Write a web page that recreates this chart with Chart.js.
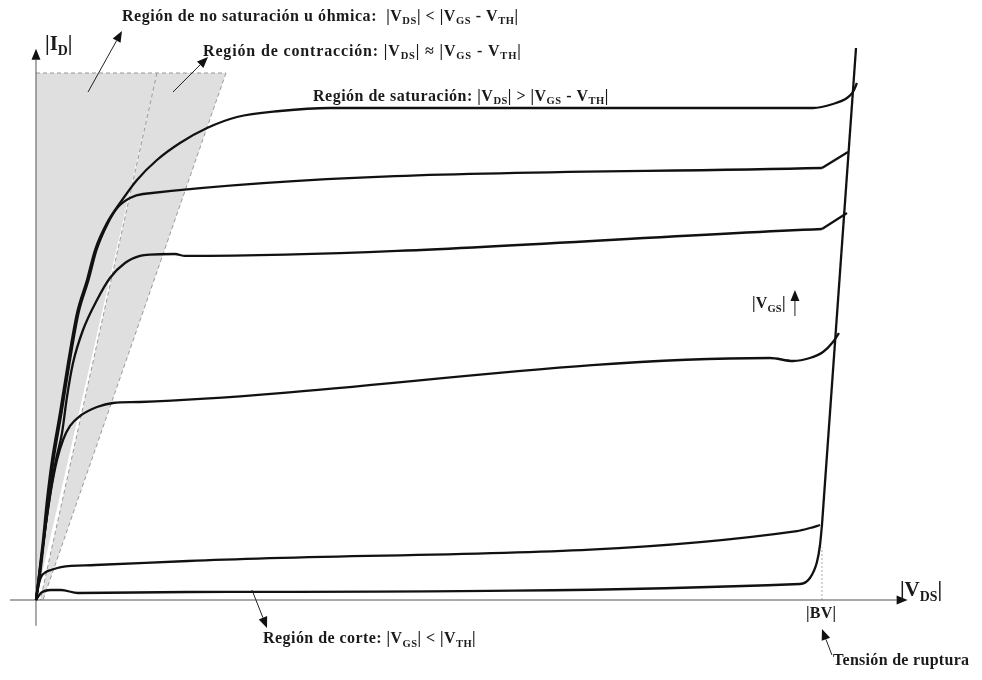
<!DOCTYPE html>
<html>
<head>
<meta charset="utf-8">
<script src="https://cdn.jsdelivr.net/npm/chart.js@4.4.1/dist/chart.umd.min.js"></script>
<style>
  html, body { margin: 0; padding: 0; background: #fff; }
  canvas { display: block; }
</style>
</head>
<body>
<canvas id="c" width="982" height="680"></canvas>
<script>
// MOSFET output characteristics: |I_D| versus |V_DS| for several |V_GS| values.
// Units: |V_DS| in volts with the breakdown voltage |BV| = 100 V, |I_D| in mA.

const BV = 100;

// Highest |V_GS| curve
const vds1 = [0, 0.38, 0.89, 1.40, 2.04, 3.05, 4.07, 5.22, 6.49, 7.51, 9.03, 10.69, 12.85, 15.39, 18.32, 21.76, 25.57, 31.04, 37.40, 98.85, 101.40, 103.18, 103.94, 104.45];
const id1  = [0, 4.74, 11.39, 18.98, 26.57, 35.48, 44.97, 54.46, 60.72, 66.41, 71.54, 75.33, 79.70, 83.49, 86.72, 89.56, 91.65, 92.79, 93.36, 93.36, 94.12, 95.26, 96.39, 98.10];

const vds2 = [0, 0.51, 1.02, 1.59, 2.23, 3.24, 4.26, 5.41, 6.68, 7.70, 9.16, 10.43, 11.96, 13.61, 100];
const id2  = [0, 4.74, 11.39, 18.98, 26.57, 35.48, 44.97, 54.46, 60.72, 66.41, 71.54, 74.57, 76.28, 77.04, 81.97];
const vds2Tail = [100, 103.31];
const id2Tail  = [81.97, 85.01];

const vds3 = [0, 0.51, 1.15, 1.78, 2.54, 3.31, 3.94, 4.71, 5.98, 7.76, 9.41, 11.32, 13.23, 14.50, 17.68, 18.96, 100];
const id3  = [0, 5.69, 13.28, 19.92, 26.57, 31.69, 38.52, 44.97, 51.23, 56.93, 61.10, 63.95, 65.28, 65.55, 65.65, 65.28, 70.40];
const vds3Tail = [100, 103.18];
const id3Tail  = [70.40, 73.43];

const vds4 = [0, 0.51, 1.15, 1.91, 2.67, 3.44, 4.33, 5.60, 7.76, 9.80, 13.23, 93.38, 96.31, 98.47, 100.13, 101.40, 102.16];
const id4  = [0, 6.07, 13.28, 20.87, 26.57, 30.36, 33.02, 34.91, 36.62, 37.38, 37.57, 45.92, 45.35, 45.92, 47.06, 48.96, 50.66];

const vds5 = [0, 0.25, 0.64, 1.27, 1.91, 3.18, 7.51, 19.34, 96.82, 98.47, 99.75];
const id5  = [0, 2.28, 4.36, 5.31, 5.69, 6.26, 6.64, 7.40, 13.09, 13.66, 14.23];

// Lowest curve (cut-off), bending into breakdown at |BV|
const vds6 = [0, 0.64, 1.91, 3.18, 5.34, 19.34, 97.20, 98.47, 99.36, 99.75, 100];
const id6  = [0, 1.33, 1.90, 1.90, 1.33, 1.52, 3.04, 4.17, 7.21, 10.44, 14.23];

// Avalanche breakdown line
const vdsBreak = [100, 104.33];
const idBreak  = [14.23, 104.74];

// Region boundaries (|V_DS| = |V_GS| - |V_TH| band), top of the shaded band
const regionTop = 100;
const ohmicEdge = [15.39, 0];        // |V_DS| at top, at bottom
const pinchEdge = [15.39, 0.55];     // dashed boundary
const satEdge   = [24.17, 0.89];     // outer dashed boundary

const X_MIN = -4.58, X_MAX = 120.36;
const Y_MIN = -15.18, Y_MAX = 113.85;

const toPts = (xs, ys) => xs.map((x, i) => ({ x, y: ys[i] }));

function curve(xs, ys, smooth) {
  return {
    data: toPts(xs, ys),
    showLine: true,
    borderColor: '#111',
    borderWidth: 2.3,
    pointRadius: 0,
    fill: false,
    cubicInterpolationMode: smooth ? 'monotone' : 'default',
    tension: smooth ? 0.4 : 0
  };
}

const FONT = '"Liberation Serif", "Times New Roman", "DejaVu Serif", serif';

// Text with _{...} subscripts
function drawRich(ctx, str, x, y, size, spacing) {
  const parts = str.split(/(_\{[^}]*\})/);
  let cx = x;
  for (const p of parts) {
    if (!p) continue;
    const sub = p.startsWith('_{');
    const t = sub ? p.slice(2, -1) : p;
    const fs = sub ? size * 0.66 : size;
    ctx.font = `bold ${fs}px ${FONT}`;
    ctx.letterSpacing = spacing + 'px';
    ctx.fillText(t, cx, sub ? y + size * 0.22 : y);
    cx += ctx.measureText(t).width;
  }
  ctx.letterSpacing = '0px';
  return cx - x;
}

function arrow(ctx, x1, y1, x2, y2, head, half, width) {
  const a = Math.atan2(y2 - y1, x2 - x1);
  const bx = x2 - head * Math.cos(a), by = y2 - head * Math.sin(a);
  ctx.beginPath();
  ctx.moveTo(x1, y1);
  ctx.lineTo(bx, by);
  ctx.lineWidth = width;
  ctx.stroke();
  ctx.beginPath();
  ctx.moveTo(x2, y2);
  ctx.lineTo(bx + half * Math.sin(a), by - half * Math.cos(a));
  ctx.lineTo(bx - half * Math.sin(a), by + half * Math.cos(a));
  ctx.closePath();
  ctx.fill();
}

const labels = [
  { text: 'Región de no saturación u óhmica:  |V_{DS}| < |V_{GS} - V_{TH}|', x: 10.94, y: 109.87, size: 16, sp: 0.55 },
  { text: 'Región de contracción: |V_{DS}| ≈ |V_{GS} - V_{TH}|', x: 21.25, y: 103.23, size: 16, sp: 0.85 },
  { text: 'Región de saturación: |V_{DS}| > |V_{GS} - V_{TH}|', x: 35.24, y: 94.69, size: 16, sp: 0.5 },
  { text: 'Región de corte: |V_{GS}| < |V_{TH}|', x: 28.88, y: -8.16, size: 16, sp: 0.45 },
  { text: '|V_{GS}|', x: 91.09, y: 55.41, size: 16, sp: 0.2 },
  { text: '|BV|', x: 97.96, y: -3.42, size: 16, sp: 0.3 },
  { text: 'Tensión de ruptura', x: 101.40, y: -12.33, size: 16, sp: 0.3 },
  { text: '|I_{D}|', x: 1.15, y: 104.36, size: 21, sp: 0 },
  { text: '|V_{DS}|', x: 109.92, y: 0.76, size: 21, sp: 0 }
];

const pointers = [
  { from: [6.62, 96.39], to: [10.94, 107.97] },
  { from: [17.43, 96.39], to: [21.88, 103.04] },
  { from: [27.48, 1.90], to: [29.39, -5.31] },
  { from: [96.56, 53.89], to: [96.56, 58.82] },
  { from: [101.27, -10.44], to: [100, -5.50] }
];

const backdrop = {
  id: 'backdrop',
  beforeDatasetsDraw(chart) {
    const { ctx } = chart;
    const sx = chart.scales.x, sy = chart.scales.y;
    const X = v => sx.getPixelForValue(v), Y = v => sy.getPixelForValue(v);
    ctx.save();
    // shaded bands
    ctx.fillStyle = '#dfdfdf';
    ctx.beginPath();
    ctx.moveTo(X(0), Y(0));
    ctx.lineTo(X(0), Y(regionTop));
    ctx.lineTo(X(ohmicEdge[0]), Y(regionTop));
    ctx.lineTo(X(ohmicEdge[1]), Y(0));
    ctx.closePath();
    ctx.fill();
    ctx.beginPath();
    ctx.moveTo(X(pinchEdge[0]), Y(regionTop));
    ctx.lineTo(X(satEdge[0]), Y(regionTop));
    ctx.lineTo(X(satEdge[1]), Y(0));
    ctx.lineTo(X(pinchEdge[1]), Y(0));
    ctx.closePath();
    ctx.fill();
    // dashed boundaries
    ctx.strokeStyle = '#999';
    ctx.lineWidth = 1;
    ctx.setLineDash([4, 3]);
    ctx.beginPath();
    ctx.moveTo(X(0), Y(regionTop));
    ctx.lineTo(X(satEdge[0]), Y(regionTop));
    ctx.moveTo(X(pinchEdge[0]), Y(regionTop));
    ctx.lineTo(X(pinchEdge[1]), Y(0));
    ctx.moveTo(X(satEdge[0]), Y(regionTop));
    ctx.lineTo(X(satEdge[1]), Y(0));
    ctx.stroke();
    // |BV| drop line
    ctx.setLineDash([2, 2]);
    ctx.strokeStyle = '#aaa';
    ctx.beginPath();
    ctx.moveTo(X(BV), Y(0));
    ctx.lineTo(X(BV), Y(10));
    ctx.stroke();
    ctx.setLineDash([]);
    // axes
    ctx.strokeStyle = '#555';
    ctx.fillStyle = '#111';
    arrow(ctx, X(0), Y(-4.9), X(0), Y(104.6), 11, 4.5, 1);
    arrow(ctx, X(-3.31), Y(0), X(110.9), Y(0), 11, 4.5, 1);
    ctx.restore();
  }
};

const notes = {
  id: 'notes',
  afterDatasetsDraw(chart) {
    const { ctx } = chart;
    const sx = chart.scales.x, sy = chart.scales.y;
    const X = v => sx.getPixelForValue(v), Y = v => sy.getPixelForValue(v);
    ctx.save();
    ctx.fillStyle = '#1a1a1a';
    ctx.textBaseline = 'alphabetic';
    for (const l of labels) drawRich(ctx, l.text, X(l.x), Y(l.y), l.size, l.sp);
    ctx.strokeStyle = '#222';
    ctx.fillStyle = '#111';
    for (const p of pointers) {
      arrow(ctx, X(p.from[0]), Y(p.from[1]), X(p.to[0]), Y(p.to[1]), 11, 4.5, 1);
    }
    ctx.restore();
  }
};

new Chart(document.getElementById('c'), {
  type: 'scatter',
  data: {
    datasets: [
      curve(vds1, id1, true),
      curve(vds2, id2, true),
      curve(vds2Tail, id2Tail, false),
      curve(vds3, id3, true),
      curve(vds3Tail, id3Tail, false),
      curve(vds4, id4, true),
      curve(vds5, id5, true),
      curve(vds6, id6, true),
      curve(vdsBreak, idBreak, false)
    ]
  },
  options: {
    responsive: false,
    animation: false,
    devicePixelRatio: 1,
    layout: { padding: 0 },
    plugins: { legend: { display: false }, tooltip: { enabled: false } },
    scales: {
      x: { type: 'linear', display: false, min: X_MIN, max: X_MAX },
      y: { type: 'linear', display: false, min: Y_MIN, max: Y_MAX }
    }
  },
  plugins: [backdrop, notes]
});
</script>
</body>
</html>
